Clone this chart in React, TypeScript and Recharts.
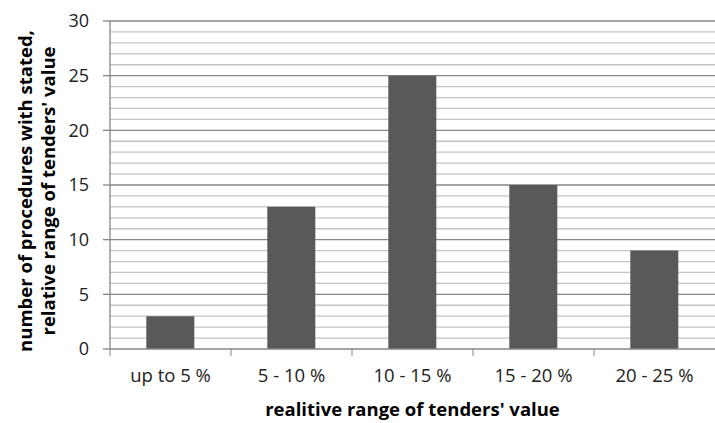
import React from 'react';
import { BarChart, Bar, XAxis, YAxis, CartesianGrid, Label } from 'recharts';

const categories = ['up to 5 %', '5 - 10 %', '10 - 15 %', '15 - 20 %', '20 - 25 %'];
const counts = [3, 13, 25, 15, 9];
const yTicks = [0, 5, 10, 15, 20, 25, 30];
const minorValues = [1, 2, 3, 4, 6, 7, 8, 9, 11, 12, 13, 14, 16, 17, 18, 19, 21, 22, 23, 24, 26, 27, 28, 29];
const majorValues = [5, 10, 15, 20, 25, 30];

const data = categories.map((c, i) => ({ name: c, value: counts[i] }));

const FONT = '"Open Sans", sans-serif';

const XTick = (props: any) => {
  const { x, y, payload } = props;
  const half = payload && payload.offset ? payload.offset : 60.5;
  return (
    <g>
      <line x1={x - half} x2={x - half} y1={y - 8} y2={y - 1} stroke="#868686" strokeWidth={1} />
      <text x={x} y={y + 25} textAnchor="middle" fontFamily={FONT} fontSize={18.5} fill="#222">
        {payload.value}
      </text>
    </g>
  );
};

const YTitle = (props: any) => {
  const vb = props.viewBox || { x: 0, y: 21, width: 110, height: 328 };
  const cy = vb.y + vb.height / 2 + 6;
  return (
    <g>
      <text
        transform={`translate(32, ${cy}) rotate(-90)`}
        textAnchor="middle"
        fontFamily={FONT}
        fontWeight="bold"
        fontSize={18.5}
        fill="#000"
      >
        number of procedures with stated,
      </text>
      <text
        transform={`translate(55, ${cy}) rotate(-90)`}
        textAnchor="middle"
        fontFamily={FONT}
        fontWeight="bold"
        fontSize={18.5}
        fill="#000"
      >
        relative range of tenders' value
      </text>
    </g>
  );
};

export default function App() {
  return (
    <div style={{ position: 'absolute', left: 0, top: 0, width: 715, height: 423, background: '#fff' }}>
      <BarChart
        width={715}
        height={423}
        data={data}
        margin={{ top: 21, right: 0, left: 0, bottom: 0 }}
        barCategoryGap="30%"
      >
        <CartesianGrid horizontal={true} vertical={false} horizontalValues={minorValues} stroke="#c4c4c4" strokeWidth={1.3} />
        <CartesianGrid horizontal={true} vertical={false} horizontalValues={majorValues} stroke="#868686" strokeWidth={1.3} />
        <XAxis
          dataKey="name"
          height={74}
          axisLine={{ stroke: '#868686', strokeWidth: 1.3 }}
          tickLine={false}
          interval={0}
          tick={<XTick />}
        >
          <Label
            value="realitive range of tenders' value"
            position="insideBottom"
            offset={7}
            style={{ fontFamily: FONT, fontWeight: 'bold', fontSize: 18.5, fill: '#000' }}
          />
        </XAxis>
        <YAxis
          width={110}
          domain={[0, 30]}
          ticks={yTicks}
          interval={0}
          axisLine={{ stroke: '#868686', strokeWidth: 1.3 }}
          tickLine={{ stroke: '#868686', strokeWidth: 1.3 }}
          tickSize={7}
          tickMargin={14}
          tick={{ fontFamily: FONT, fontSize: 18, fill: '#222' }}
        >
          <Label content={<YTitle />} position="insideLeft" />
        </YAxis>
        <Bar dataKey="value" fill="#595959" isAnimationActive={false} />
      </BarChart>
    </div>
  );
}
